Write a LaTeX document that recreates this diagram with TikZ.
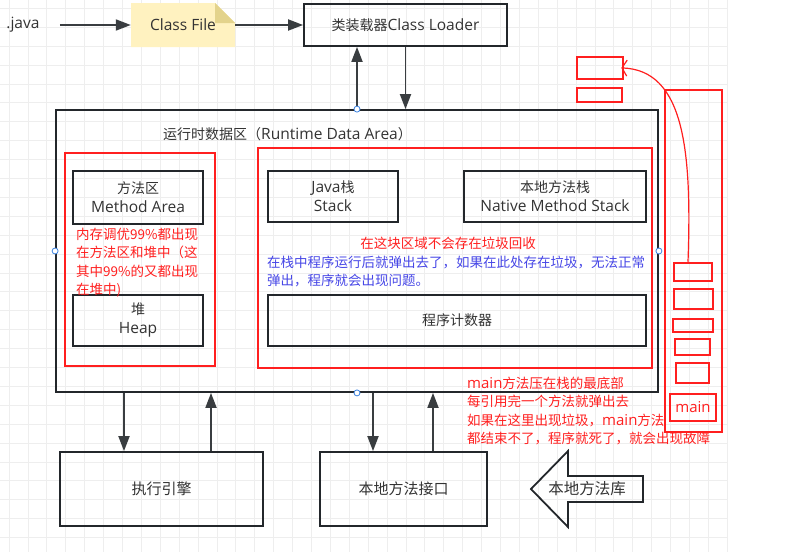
\documentclass[tikz,border=0pt]{standalone}
\usepackage{fontspec}
\setmainfont{Noto Sans CJK SC}
\newfontfamily\lat[Scale=1.11]{Open Sans}
\usetikzlibrary{positioning,arrows.meta}

\definecolor{boxline}{HTML}{23272B}
\definecolor{txtgray}{HTML}{333333}
\definecolor{redline}{HTML}{FF1F1F}
\definecolor{bluetext}{HTML}{4646E6}
\definecolor{gridgray}{HTML}{EEEEEE}
\definecolor{notefill}{HTML}{FFF2C0}
\definecolor{notefold}{HTML}{E3D38C}
\definecolor{handle}{HTML}{3B82E0}

\tikzset{
  box/.style={draw=boxline,line width=1.8pt,text=txtgray,align=center,
    font=\fontsize{14}{19}\selectfont,inner sep=0pt},
  redbox/.style={draw=redline,line width=2.5pt,inner sep=0pt},
  rednote/.style={text=redline,align=left,font=\fontsize{13.5}{18.3}\selectfont,inner sep=0pt},
  bluenote/.style={text=bluetext,align=left,font=\fontsize{13.5}{18}\selectfont,inner sep=0pt},
  plain/.style={text=txtgray,inner sep=0pt},
  gridline/.style={draw=gridgray,line width=0.8pt},
  flow/.style={draw=boxline!90,line width=1.8pt},
  handlept/.style={draw=handle,fill=white,line width=0.8pt},
  redcurve/.style={draw=redline,line width=1.2pt},
  notebox/.style={inner sep=0pt,text=txtgray,font=\lat\fontsize{14}{17}\selectfont,
    path picture={
      \fill[notefill] (path picture bounding box.north west)
        -- ([xshift=-20pt]path picture bounding box.north east)
        -- ([yshift=-20pt]path picture bounding box.north east)
        -- (path picture bounding box.south east)
        -- (path picture bounding box.south west) -- cycle;
      \fill[notefold] ([xshift=-20pt]path picture bounding box.north east)
        -- ([xshift=-20pt,yshift=-20pt]path picture bounding box.north east)
        -- ([yshift=-20pt]path picture bounding box.north east) -- cycle;
    }},
}

\begin{document}
\begin{tikzpicture}[x=1pt,y=-1pt,>={Triangle[length=15pt,width=11pt]}]
  \useasboundingbox (0,0) rectangle (787,552);

  % grid
  \foreach \gx in {0,...,38}
    \draw[gridline] ({9+18.9*\gx},0) -- ({9+18.9*\gx},552);
  \foreach \gy in {0,...,28}
    \draw[gridline] (0,{8.3+18.9*\gy}) -- (728,{8.3+18.9*\gy});

  % top row
  \node (java) [plain,font=\lat\fontsize{14}{18}\selectfont] at (23,25) {.java};
  \node (classfile) [notebox,minimum width=104pt,minimum height=44pt] at (183,25) {Class File};
  \node (loader) [box,minimum width=203pt,minimum height=42pt] at (405.5,25) {类装载器{\lat Class Loader}};

  % runtime data area
  \node (rt) [box,minimum width=602pt,minimum height=282pt] at (357,251) {};
  \node (rttitle) [plain,font=\fontsize{14}{17}\selectfont,anchor=west] at (163,134) {运行时数据区（{\lat Runtime Data Area}）};

  \node (leftred) [redbox,minimum width=150pt,minimum height=213pt] at (140,259.5) {};
  \node (method) [box,minimum width=130pt,minimum height=53pt] at (138,197.5) {方法区\\{\lat Method Area}};
  \node (heap) [box,minimum width=130pt,minimum height=51pt] at (138,320.5) {堆\\{\lat Heap}};
  \node (tuning) [rednote,anchor=north west] at (76,228) {内存调优99\%都出现\\在方法区和堆中（这\\其中99\%的又都出现\\在堆中)};

  \node (rightred) [redbox,minimum width=394pt,minimum height=220pt] at (455,258) {};
  \node (jstack) [box,minimum width=130pt,minimum height=51pt] at (333,196.5) {{\lat Java}栈\\{\lat Stack}};
  \node (nstack) [box,minimum width=182pt,minimum height=51pt] at (555,196.5) {本地方法栈\\{\lat Native Method Stack}};
  \node (pc) [box,minimum width=378pt,minimum height=51pt] at (457,320.5) {程序计数器};
  \node (nogc) [rednote] at (448,243) {在这块区域不会存在垃圾回收};
  \node (popnote) [bluenote,anchor=north west] at (267,256) {在栈中程序运行后就弹出去了，如果在此处存在垃圾，无法正常\\弹出，程序就会出现问题。};

  % stack picture
  \node (stack) [redbox,minimum width=57pt,minimum height=342pt] at (693.5,261) {};
  \node (st1) [redbox,minimum width=38pt,minimum height=18pt] at (693,272) {};
  \node (st2) [redbox,minimum width=39pt,minimum height=20pt] at (693.5,299) {};
  \node (st3) [redbox,minimum width=40pt,minimum height=13pt] at (693,325.5) {};
  \node (st4) [redbox,minimum width=35pt,minimum height=16pt] at (692.5,347) {};
  \node (st5) [redbox,minimum width=33pt,minimum height=20pt] at (692.5,373) {};
  \node (mainfr) [redbox,minimum width=46pt,minimum height=27pt,text=redline,
    font=\lat\fontsize{13.5}{16}\selectfont] at (693,407.5) {main};
  \node (pop1) [redbox,minimum width=46pt,minimum height=22pt] at (600,68) {};
  \node (pop2) [redbox,minimum width=45pt,minimum height=14pt] at (599.5,95) {};
  \node (mainnote) [rednote,anchor=north west] at (467,377) {{\lat main}方法压在栈的最底部\\每引用完一个方法就弹出去\\如果在这里出现垃圾，{\lat main}方法\\都结束不了，程序就死了，就会出现故障};

  % bottom row
  \node (engine) [box,font=\fontsize{15}{18}\selectfont,minimum width=203pt,minimum height=74pt] at (161.5,489) {执行引擎};
  \node (jni) [box,font=\fontsize{15}{18}\selectfont,minimum width=167pt,minimum height=74pt] at (403.5,489) {本地方法接口};
  \node (lib) [plain,font=\fontsize{15.5}{18}\selectfont] at (587,489) {本地方法库};
  \draw[boxline,line width=1.8pt,line join=miter]
    (531,489) -- (568,451) -- (568,476) -- (643,476) -- (643,502)
    -- (568,502) -- (568,527) -- cycle;

  % connectors
  \draw[flow,->] ([xshift=20pt]java.east) -- (classfile.west);
  \draw[flow,->] (classfile.east) -- (loader.west);
  \draw[flow,->] (rt.north) -- (rt.north |- loader.south);
  \draw[flow,->] (loader.south) -- (loader.south |- rt.north);

  \coordinate (e1) at ([xshift=-37.5pt]engine.north);
  \coordinate (e2) at ([xshift=49.5pt]engine.north);
  \coordinate (j1) at ([xshift=-30.5pt]jni.north);
  \coordinate (j2) at ([xshift=29.5pt]jni.north);
  \draw[flow,->] (e1 |- rt.south) -- (e1);
  \draw[flow,->] (e2) -- (e2 |- rt.south);
  \draw[flow,->] (j1 |- rt.south) -- (j1);
  \draw[flow,->] (j2) -- (j2 |- rt.south);

  \draw[redcurve,-{Straight Barb[length=5pt,width=16pt]},shorten >=-3pt]
    ([xshift=-5pt]st1.north) .. controls (692,150) and (684,70) .. (pop1.east);

  % handles
  \foreach \side in {north,south,east,west}
    \draw[handlept] (rt.\side) circle (3pt);
\end{tikzpicture}
\end{document}
